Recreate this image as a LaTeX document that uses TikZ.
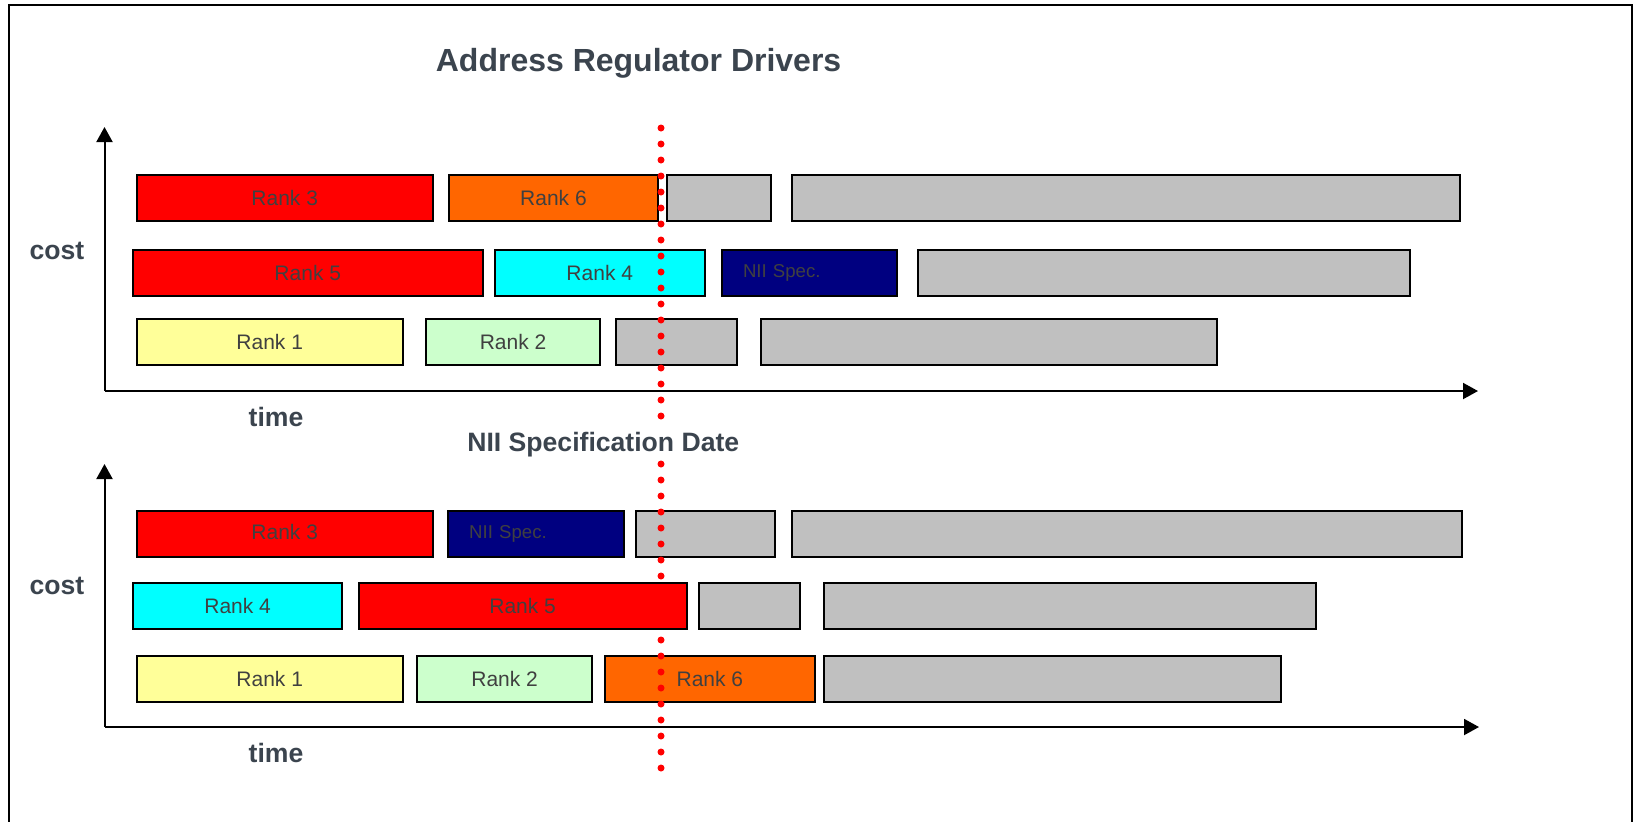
\documentclass[tikz,border=0pt]{standalone}
\usepackage{fontspec}
\setmainfont{Liberation Sans}
\usetikzlibrary{arrows.meta}

\definecolor{rankred}{RGB}{255,0,0}
\definecolor{rankorange}{RGB}{255,102,0}
\definecolor{rankcyan}{RGB}{0,255,255}
\definecolor{ranknavy}{RGB}{0,0,128}
\definecolor{rankyellow}{RGB}{255,255,153}
\definecolor{rankgreen}{RGB}{204,255,204}
\definecolor{rankgray}{RGB}{192,192,192}
\definecolor{labelgray}{RGB}{64,64,64}
\definecolor{headgray}{RGB}{59,68,78}

\begin{document}
\begin{tikzpicture}[x=0.5pt,y=-0.5pt,
        bar/.style={draw=black, line width=1pt, minimum height=23pt, inner sep=0pt,
                    text=labelgray, font=\fontsize{10.5}{12}\selectfont},
        spec/.style={bar, fill=ranknavy, align=left, inner xsep=10.5pt,
                     font=\fontsize{9.3}{11}\selectfont},
        axis/.style={line width=1pt, -{Triangle[length=7.5pt,width=8pt]}},
        axislabel/.style={anchor=base, text=headgray, font=\fontsize{13.3}{16}\selectfont\bfseries},
        dateline/.style={rankred, line width=3.5pt, line cap=round, dash pattern=on 0pt off 8pt}]

    \useasboundingbox (0,0) rectangle (1636,821);
    \draw[line width=1pt] (9,830) -- (9,5) -- (1632,5) -- (1632,830);

    \node[anchor=base, text=headgray, font=\fontsize{16}{19}\selectfont\bfseries] (title) at (638.6,71.7) {Address Regulator Drivers};

    % upper chart
    \coordinate (o1) at (104.5,391);
    \coordinate (yt1) at (104.5,127);
    \coordinate (xt1) at (1478,391);
    \draw[axis] (o1) -- (yt1);
    \draw[axis] (o1) -- (xt1);
    \node[axislabel] (cost1) at (57,259) {cost};
    \node[axislabel] (time1) at (276,426.7) {time};

    \node[bar, fill=rankred, minimum width=148.25pt] (a-r3) at (284.75,198) {Rank 3};
    \node[bar, fill=rankorange, minimum width=104.75pt] (a-r6) at (553.45,198) {Rank 6};
    \node[bar, fill=rankgray, minimum width=52.15pt] (a-g1) at (718.85,198) {};
    \node[bar, fill=rankgray, minimum width=334pt] (a-g2) at (1126,198) {};

    \node[bar, fill=rankred, minimum width=175.25pt] (a-r5) at (307.75,272.5) {Rank 5};
    \node[bar, fill=rankcyan, minimum width=104.75pt] (a-r4) at (599.75,272.5) {Rank 4};
    \node[spec, text width=66.7pt] (a-nii) at (809.7,272.5) {\raisebox{-1pt}{NII Spec.}};
    \node[bar, fill=rankgray, minimum width=245.9pt] (a-g3) at (1164.1,272.5) {};

    \node[bar, fill=rankyellow, minimum width=133.25pt] (a-r1) at (269.75,342) {Rank 1};
    \node[bar, fill=rankgreen, minimum width=87.25pt] (a-r2) at (513.05,342) {Rank 2};
    \node[bar, fill=rankgray, minimum width=60.3pt] (a-g4) at (676.7,342) {};
    \node[bar, fill=rankgray, minimum width=228pt] (a-g5) at (989,342) {};

    \node[axislabel] (date) at (603.3,451) {NII Specification Date};

    % lower chart
    \coordinate (o2) at (104.5,727);
    \coordinate (yt2) at (104.5,464);
    \coordinate (xt2) at (1479,727);
    \draw[axis] (o2) -- (yt2);
    \draw[axis] (o2) -- (xt2);
    \node[axislabel] (cost2) at (57,594.3) {cost};
    \node[axislabel] (time2) at (276,762.3) {time};

    \node[bar, fill=rankred, minimum width=148.25pt] (b-r3) at (284.75,534) {\raisebox{2.5pt}{Rank 3}};
    \node[spec, text width=66.7pt] (b-nii) at (535.9,534) {\raisebox{-1pt}{NII Spec.}};
    \node[bar, fill=rankgray, minimum width=69.5pt] (b-g1) at (705.5,534) {};
    \node[bar, fill=rankgray, minimum width=335pt] (b-g2) at (1127,534) {};

    \node[bar, fill=rankcyan, minimum width=104.65pt] (b-r4) at (237.65,606) {Rank 4};
    \node[bar, fill=rankgray, minimum width=50.5pt] (b-g3) at (749,606) {};
    \node[bar, fill=rankgray, minimum width=246.2pt] (b-g4) at (1070.2,606) {};

    \node[bar, fill=rankyellow, minimum width=133.25pt] (b-r1) at (269.75,678.5) {Rank 1};
    \node[bar, fill=rankgreen, minimum width=87.4pt] (b-r2) at (504.6,678.5) {Rank 2};
    \node[bar, fill=rankorange, minimum width=104.85pt] (b-r6) at (709.85,678.5) {Rank 6};
    \node[bar, fill=rankgray, minimum width=228.35pt] (b-g5) at (1052.35,678.5) {};

    % spec date
    \coordinate (d1) at (661,128);
    \coordinate (d2) at (661,416);
    \coordinate (d3) at (661,464);
    \coordinate (d4) at (661,768);
    \draw[dateline] (d1) -- (d2);
    \draw[dateline] (d3) -- (d4);

    % Rank 5 sits over the line
    \node[bar, fill=rankred, minimum width=164.05pt] (b-r5) at (522.65,606) {Rank 5};

\end{tikzpicture}
\end{document}
